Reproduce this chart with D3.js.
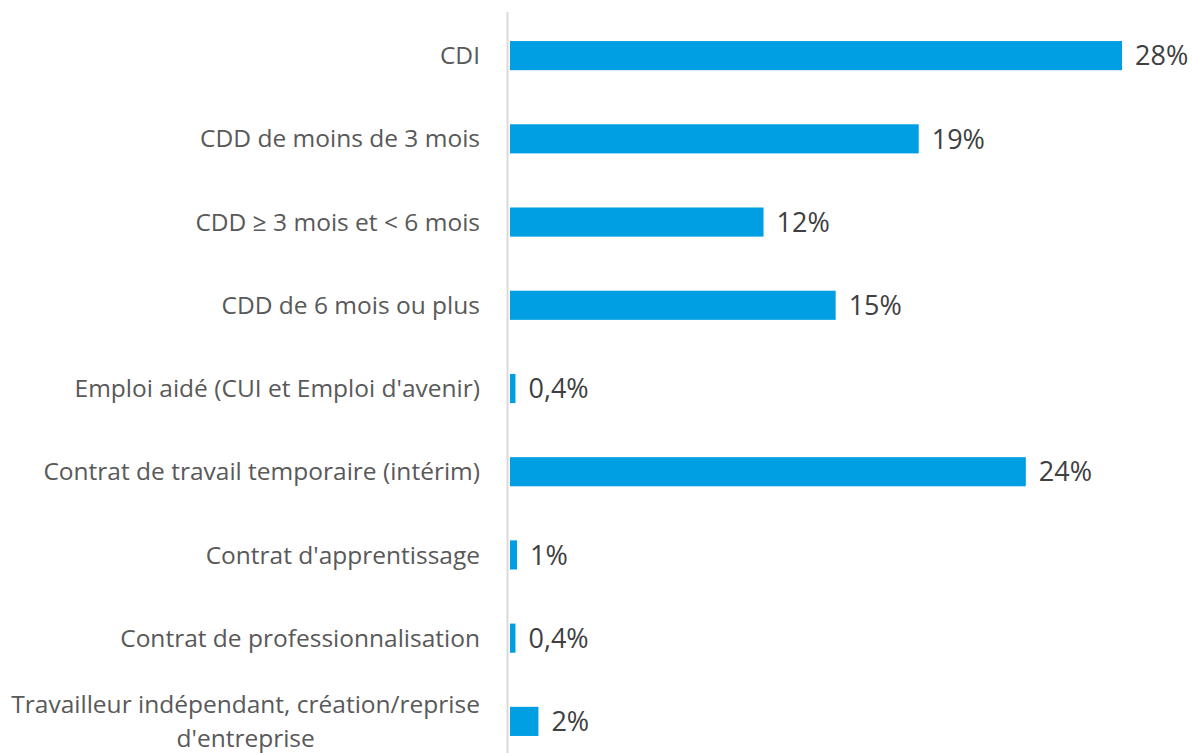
<!DOCTYPE html>
<html>
<head>
<meta charset="utf-8">
<script src="https://cdn.jsdelivr.net/npm/d3@7"></script>
<style>
  body { margin: 0; background: #fff; }
  text { font-family: "Open Sans", Lato, sans-serif; }
</style>
</head>
<body>
<div id="chart"></div>
<script>
/* Type de contrat : horizontal bar chart */

const categories = [
  "CDI",
  "CDD de moins de 3 mois",
  "CDD ≥ 3 mois et < 6 mois",
  "CDD de 6 mois ou plus",
  "Emploi aidé (CUI et Emploi d'avenir)",
  "Contrat de travail temporaire (intérim)",
  "Contrat d'apprentissage",
  "Contrat de professionnalisation",
  "Travailleur indépendant, création/reprise d'entreprise"
];

// values (percent)
const values = [28, 18.7, 11.6, 14.9, 0.25, 23.6, 0.32, 0.25, 1.3];

const valueLabels = ["28%", "19%", "12%", "15%", "0,4%", "24%", "1%", "0,4%", "2%"];

const width = 1193, height = 753;
const margin = ({ top: 14, right: 71, bottom: -10, left: 510 });

const svg = d3.select("#chart")
  .append("svg")
  .attr("width", width)
  .attr("height", height)
  .attr("viewBox", [0, 0, width, height]);

const data = categories.map((c, i) => ({ cat: c, val: values[i], label: valueLabels[i] }));

/* scales */
let x = d3.scaleLinear()
  .domain([0, 28])
  .range([margin.left, width - margin.right]);

let y = d3.scaleBand()
  .domain(categories)
  .range([margin.top, height - margin.bottom])
  .paddingInner(0.65)
  .paddingOuter(0.325);

/* bars */
svg.append("g")
  .selectAll("rect")
  .data(data)
  .join("rect")
    .attr("x", x(0))
    .attr("y", d => y(d.cat))
    .attr("width", d => x(d.val) - x(0))
    .attr("height", y.bandwidth())
    .attr("fill", "#009fe3");

/* vertical axis line */
svg.append("line")
  .attr("x1", x(0) - 2.5).attr("x2", x(0) - 2.5)
  .attr("y1", 12).attr("y2", height)
  .attr("stroke", "#d9d9d9")
  .attr("stroke-width", 2);

/* category labels, the last one on two centred lines */
const catLines = {
  "Travailleur indépendant, création/reprise d'entreprise":
    ["Travailleur indépendant, création/reprise", "d'entreprise"]
};
const labelRight = x(0) - 30;

const labels = svg.append("g")
  .selectAll("text")
  .data(data)
  .join("text")
    .attr("text-anchor", "end")
    .attr("x", labelRight)
    .attr("y", d => y(d.cat) + y.bandwidth() / 2)
    .attr("fill", "#595959")
    .style("font-size", "24.5px");

labels.each(function(d) {
  const lines = catLines[d.cat] || [d.cat];
  const t = d3.select(this);
  lines.forEach((l, i) => {
    t.append("tspan")
      .attr("x", labelRight)
      .attr("dy", i === 0 ? `${0.35 - (lines.length - 1) * 0.69}em` : "1.38em")
      .text(l);
  });
  if (lines.length > 1) {
    // centre the lines on the widest one, keeping its right edge in place
    const w = d3.max(t.selectAll("tspan").nodes(), n => n.getComputedTextLength());
    t.attr("text-anchor", "middle");
    t.selectAll("tspan").attr("x", labelRight - w / 2);
  }
});

/* value labels */
svg.append("g")
  .selectAll("text")
  .data(data)
  .join("text")
    .attr("x", d => x(d.val) + 13)
    .attr("y", d => y(d.cat) + y.bandwidth() / 2)
    .attr("dy", "0.36em")
    .attr("fill", "#404040")
    .style("font-size", "27px")
    .text(d => d.label);
</script>
</body>
</html>
